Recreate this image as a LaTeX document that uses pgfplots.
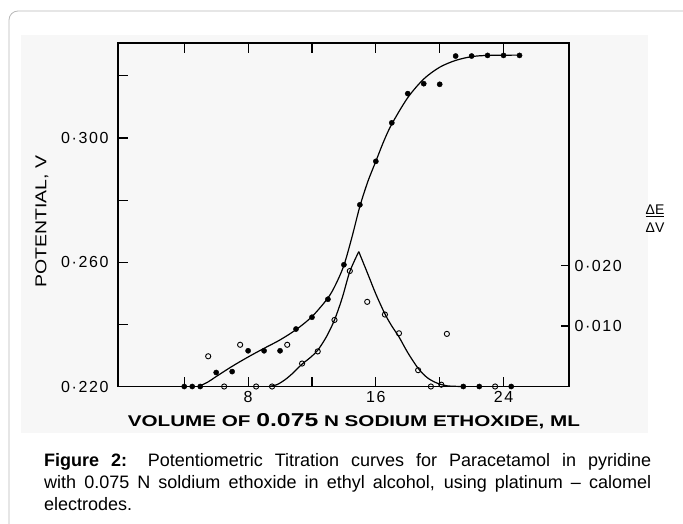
\documentclass[border=0pt]{standalone}
\usepackage{fontspec}
\setmainfont{Liberation Sans}
\newfontfamily\tickfont[LetterSpace=10]{Liberation Sans}
\usepackage{graphicx}
\usepackage{pgfplots}
\pgfplotsset{compat=1.18}

\begin{document}
\begin{tikzpicture}
\path[use as bounding box] (0,0) rectangle (683pt,523pt);
\begin{scope}
  \clip (0,0) rectangle (683pt,523pt);
  \draw[gray!55, line width=0.8pt, rounded corners=9pt] (9pt,-20pt) -- (9pt,512pt) -- (720pt,512pt);
\end{scope}
\fill[gray!6] (21pt,90pt) rectangle (648pt,488pt);

% potential (left axis)
\begin{axis}[
  scale only axis, width=451pt, height=343.5pt,
  at={(118pt,136.5pt)}, anchor=south west,
  xmin=-0.15, xmax=28.1, ymin=0.220, ymax=0.3306,
  clip=false,
  axis line style={line width=1.1pt},
  xtick={4,8,...,24}, xticklabels={,8,,16,,24},
  ytick={0.22,0.24,0.26,0.28,0.30,0.32},
  yticklabels={0·220,,0·260,,0·300,},
  ytick pos=left, tick align=inside, major tick length=10pt,
  tick style={line width=1.1pt, black},
  xticklabel style={font=\tickfont\fontsize{16}{16}\selectfont, yshift=-1pt},
  yticklabel style={font=\tickfont\fontsize{16}{16}\selectfont, xshift=-6pt},
  xlabel={\resizebox{452pt}{13pt}{\bfseries VOLUME OF {\large 0.075} N SODIUM ETHOXIDE, ML}},
  xlabel style={at={(axis description cs:0.523,-0.102)}, anchor=center},
  ylabel={\resizebox{132pt}{11pt}{POTENTIAL, V}},
  ylabel style={at={(axis description cs:-0.1685,0.479)}, anchor=center},
]
  \addplot[black, line width=1.2pt, smooth] coordinates {
    (4.9,0.2200)(5.5,0.2215)(6,0.2232)(7,0.2265)(8,0.2295)(9,0.2323)(10,0.2350)
    (11,0.2383)(12,0.2425)(13,0.2485)(13.5,0.2530)(14,0.2590)(14.5,0.2680)
    (15,0.2780)(15.5,0.2860)(16,0.2925)(16.5,0.2990)(17,0.3045)(18,0.3130)
    (19,0.3190)(20,0.3228)(21,0.3250)(22,0.3262)(23,0.3266)(25,0.3267)};
  \addplot[black, only marks, mark=*, mark size=2.6pt] coordinates {
    (4,0.220)(4.5,0.220)(5,0.220)(6,0.2245)(7,0.2248)(8,0.2315)(9,0.2315)
    (10,0.2315)(11,0.2385)(12,0.2423)(13,0.2481)(14,0.2592)(15,0.2785)
    (16,0.2925)(17,0.3049)(18,0.3143)(19,0.3175)(20,0.3173)(21,0.3264)
    (22,0.3264)(23,0.3266)(24,0.3266)(25,0.3266)};
\end{axis}

% derivative (right axis)
\begin{axis}[
  scale only axis, width=451pt, height=343.5pt,
  at={(118pt,136.5pt)}, anchor=south west,
  xmin=-0.15, xmax=28.1, ymin=0, ymax=0.0568,
  clip=false, scaled y ticks=false,
  axis x line=none, axis y line*=right,
  axis line style={line width=1.1pt, -},
  ytick={0.01,0.02}, yticklabels={0·010,0·020},
  tick align=inside, major tick length=8pt,
  tick style={line width=1.1pt, black},
  yticklabel style={font=\tickfont\fontsize{16}{16}\selectfont, xshift=2pt},
  ylabel={\fontsize{14}{18}\selectfont\begin{tabular}{@{}c@{}}\underline{ΔE}\\ΔV\end{tabular}},
  ylabel style={at={(axis description cs:1.1907,0.485)}, anchor=center, rotate=-90},
]
  \addplot[black, line width=1.2pt, smooth] coordinates {
    (9.3,0)(9.8,0.0003)(10.3,0.0011)(10.8,0.0022)(11.38,0.0037)(11.9,0.0048)
    (12.36,0.0060)(12.9,0.0082)(13.41,0.0110)(13.9,0.0147)(14.37,0.0190)(14.93,0.0223)};
  \addplot[black, line width=1.2pt, smooth] coordinates {
    (14.93,0.0223)(15.5,0.0186)(16,0.0153)(16.57,0.0120)(17,0.0100)(17.45,0.0082)
    (18,0.0056)(18.65,0.0030)(19.2,0.0015)(19.8,0.0006)(20.5,0.0001)(21.5,0)};
  \addplot[black, only marks, mark=o, mark size=2.6pt, mark options={line width=0.9pt}] coordinates {
    (5.5,0.0050)(6.5,0)(7.5,0.0069)(8.5,0)(9.5,0)(10.45,0.0069)(11.38,0.0038)
    (12.36,0.0058)(13.41,0.0110)(14.37,0.0191)(15.46,0.0140)(16.57,0.0119)
    (17.45,0.0088)(18.65,0.0027)(19.45,0)(20.1,0.0003)(20.45,0.0087)(23.47,0)};
  \addplot[black, only marks, mark=*, mark size=2.6pt] coordinates {
    (21.48,0)(22.48,0)(24.48,0)};
\end{axis}

\node[anchor=north west, inner sep=0pt, text width=607pt, align=justify,
      font=\fontsize{18}{22}\selectfont] at (44pt,70pt)
  {\textbf{Figure 2:} Potentiometric Titration curves for Paracetamol in pyridine\linebreak
   with 0.075 N soldium ethoxide in ethyl alcohol, using platinum – calomel\linebreak
   electrodes.};
\end{tikzpicture}
\end{document}
